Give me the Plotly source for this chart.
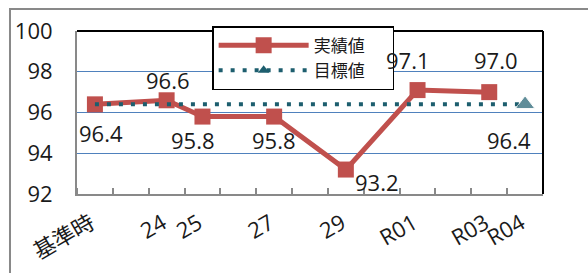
import plotly.graph_objects as go

# ---- data ----
categories = ["基準時", "23", "24", "25", "26", "27", "28", "29", "30", "R01", "R02", "R03", "R04"]
tick_labels = ["基準時", "", "24", "25", "", "27", "", "29", "", "R01", "", "R03", "R04"]
actual = [96.4, None, 96.6, 95.8, None, 95.8, None, 93.2, None, 97.1, None, 97.0, None]
target_value = 96.4
target_cat = "R04"
series_names = ["実績値", "目標値"]

# label offsets (px) for the value labels, style only
actual_label_shift = {"基準時": (6, -29), "24": (1, 20), "25": (-9, -23), "27": (0, -23),
                      "29": (31, -12), "R01": (-10, 30), "R03": (7, 32)}
target_label_shift = (-16, -36)

RED = "#C0504D"
TEAL = "#1D5E6E"
GRAY = "#898989"
FONT = "Open Sans, Noto Sans CJK JP, sans-serif"
PAD = "\u00a0" * 5  # legend right padding

xs = list(range(len(categories)))
t_idx = categories.index(target_cat)
target = [target_value] * len(categories)
tri_sizes = [17 if i == t_idx else 0 for i in xs]

fig = go.Figure()
fig.add_trace(go.Scatter(
    x=xs, y=actual, name=series_names[0] + PAD, mode="lines+markers", connectgaps=True,
    line=dict(color=RED, width=5), marker=dict(symbol="square", size=16, color=RED)))
fig.add_trace(go.Scatter(
    x=xs, y=target, name=series_names[1], mode="lines+markers",
    line=dict(color=TEAL, width=4, dash="4px,8px"),
    marker=dict(symbol="triangle-up", size=tri_sizes, color=TEAL),
    showlegend=False))
# legend key for target
fig.add_trace(go.Scatter(
    x=[None], y=[None], name=series_names[1] + PAD, mode="lines+markers",
    line=dict(color=TEAL, width=4, dash="4px,8px"),
    marker=dict(symbol="triangle-up", size=10, color=TEAL)))

ann = []
for i, (c, v) in enumerate(zip(categories, actual)):
    if v is None:
        continue
    dx, dy = actual_label_shift.get(tick_labels[i], (0, 20))
    ann.append(dict(x=i, y=v, text=f"{v:.1f}", showarrow=False, xshift=dx, yshift=dy,
                    font=dict(size=22, color="#1a1a1a", family=FONT)))
ann.append(dict(x=t_idx, y=target_value, text=f"{target_value:.1f}", showarrow=False,
                xshift=target_label_shift[0], yshift=target_label_shift[1],
                font=dict(size=22, color="#1a1a1a", family=FONT)))

shapes = [
    # outer chart frame
    dict(type="rect", xref="paper", yref="paper", x0=-0.1438, y0=-0.7, x1=1.3, y1=1.135,
         line=dict(color=GRAY, width=2), layer="below"),
    # plot area top and right border
    dict(type="line", xref="paper", yref="paper", x0=0, x1=1, y0=1, y1=1,
         line=dict(color="black", width=2), layer="above"),
    dict(type="line", xref="paper", yref="paper", x0=1, x1=1, y0=0, y1=1,
         line=dict(color="black", width=2), layer="above"),
]

fig.update_layout(
    width=588, height=273,
    margin=dict(l=77, r=45, t=31, b=79, autoexpand=False),
    paper_bgcolor="white", plot_bgcolor="rgba(0,0,0,0)",
    font=dict(family=FONT, color="#1a1a1a"),
    showlegend=True,
    legend=dict(x=0.29, y=1.03, xanchor="left", yanchor="top",
                bgcolor="white", bordercolor="black", borderwidth=1.5,
                font=dict(size=17, family=FONT), itemwidth=90),
    annotations=ann, shapes=shapes,
)
fig.update_xaxes(
    range=[-0.5, len(categories) - 0.5], tickmode="array", tickvals=xs, ticktext=tick_labels,
    tickangle=-30, ticks="", tickfont=dict(size=22, family=FONT),
    showline=True, linecolor=GRAY, linewidth=2, showgrid=False, zeroline=False,
    ticklabelstandoff=6, ticklabelshift=-4,
    minor=dict(tickmode="array", tickvals=[i - 0.5 for i in range(len(categories) + 1)],
               ticks="inside", ticklen=6, tickcolor=GRAY, tickwidth=1.5, showgrid=False),
)
fig.update_yaxes(
    range=[92, 100], dtick=2, tick0=92, ticks="", tickfont=dict(size=22, family=FONT),
    showline=True, linecolor=GRAY, linewidth=2, showgrid=True, gridcolor="#4F81BD", gridwidth=1.2,
    zeroline=False, ticklabelstandoff=18,
)

fig.write_html("out.html", config={"displayModeBar": False},
               post_script="document.body.style.margin='0';document.body.style.overflow='hidden';")
